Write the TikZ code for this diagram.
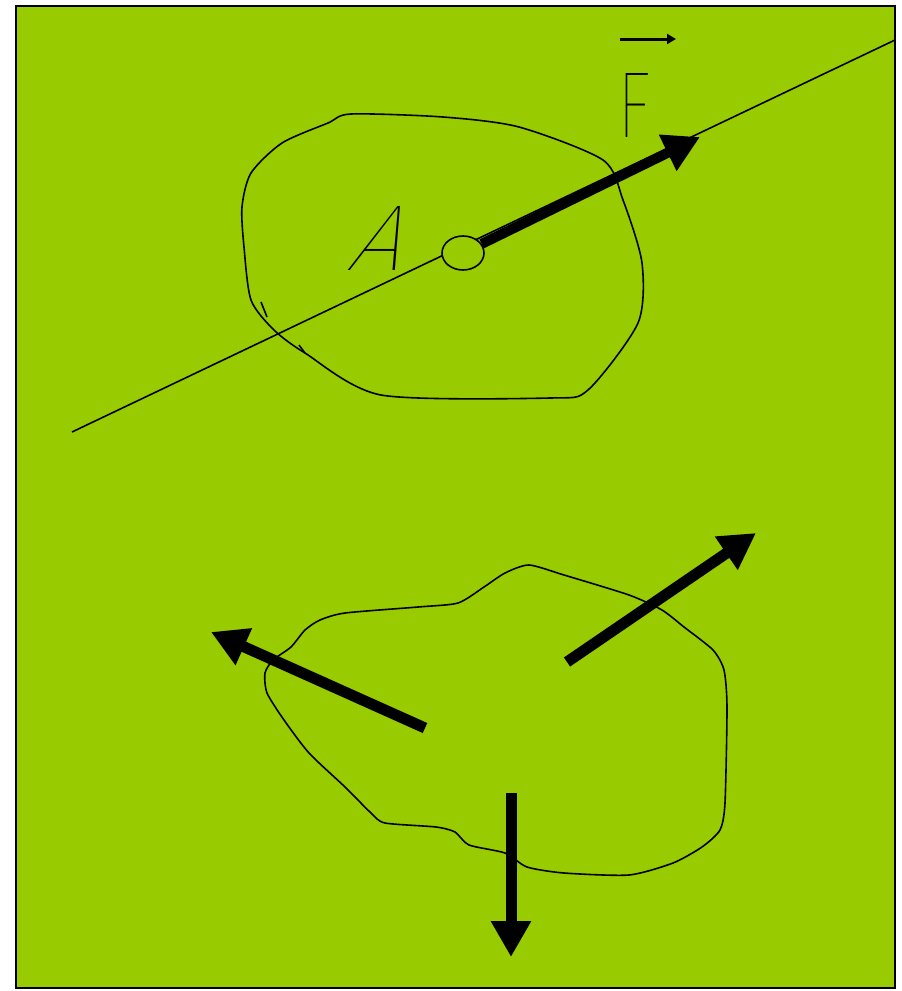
\documentclass[tikz,border=0pt]{standalone}
\usepackage{fontspec}
\newfontfamily\thinfont{Fira Sans Thin}
\usetikzlibrary{arrows.meta,shapes.geometric}
\definecolor{bg}{RGB}{153,204,0}
\begin{document}
\begin{tikzpicture}[x=1pt,y=-1pt,
  outline/.style={line width=1.6pt, black, line join=round},
  bigarrow/.style={line width=10pt, black, -{Triangle[length=36pt,width=38pt]}},
  letter/.style={font={\thinfont\fontsize{94}{94}\selectfont}, inner sep=0pt, text=black}]
\useasboundingbox (0,0) rectangle (902,991);
\fill[white] (0,0) rectangle (902,991);
\draw[fill=bg, line width=2pt] (16,6) rectangle (895,988);

% ---------- upper body ----------
\draw[outline] plot[smooth cycle, tension=0.45] coordinates {
  (351,114) (443,117) (519,127) (603,160) (623,200) (642,263) (638,323)
  (588,390) (550,398) (381,395) (305,353) (274,330) (251,300) (244,247)
  (242,207) (251,173) (282,143) (328,123)};
\draw[outline] (261,302) -- (267,317);
\draw[outline] (299,345) -- (305,353);

% line of action
\coordinate (L1) at (72,432);
\coordinate (L2) at (895,40);
\draw[outline] (L1) -- (L2);

% point A
\node[ellipse, draw, line width=1.6pt, fill=bg, minimum width=42pt, minimum height=34pt, inner sep=0pt] (P) at (463,253) {};
\node[letter, xslant=0.43, transform shape] (A) at (385,238) {A};

% force F
\coordinate (Ftip) at (700,137);
\draw[bigarrow] (P) -- (Ftip);
\node[letter, xscale=0.75, transform shape] (F) at (634,105) {F};
\coordinate (vs) at (620,39);
\coordinate (ve) at (676,39);
\draw[line width=3pt, black, -{Triangle[length=9pt,width=10pt]}] (vs) -- (ve);

% ---------- lower body ----------
\draw[outline] plot[smooth cycle, tension=0.4] coordinates {
  (529,565) (564,575) (629,595) (662,610) (684,627) (713,650) (724,670)
  (727,707) (725,803) (720,830) (702,847) (673,863) (629,875) (564,873)
  (527,867) (505,853) (469,845) (455,832) (436,827) (385,823) (371,813)
  (345,787) (309,753) (284,720) (267,693) (265,673) (273,660) (291,647)
  (305,630) (320,620) (345,613) (418,607) (458,603) (484,587) (505,573)};

\coordinate (t1) at (425,728);
\coordinate (h1) at (211,632);
\coordinate (t2) at (567,662);
\coordinate (h2) at (756,533);
\coordinate (t3) at (511,793);
\coordinate (h3) at (511,957);
\draw[bigarrow, line width=11pt] (t1) -- (h1);
\draw[bigarrow, line width=11pt] (t2) -- (h2);
\draw[bigarrow, line width=11pt] (t3) -- (h3);
\end{tikzpicture}
\end{document}
